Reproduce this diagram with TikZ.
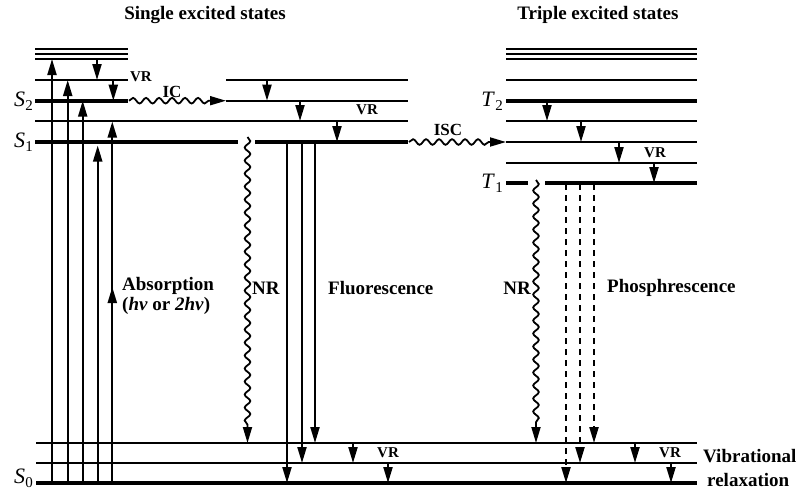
\documentclass[tikz,border=0pt]{standalone}
\usepackage{fontspec}
\setmainfont{Liberation Serif}
\usetikzlibrary{arrows.meta,decorations.pathmorphing}
\newcommand\lvlname[2]{\textit{#1}\kern.3pt\raisebox{-4pt}{\fontsize{15}{15}\selectfont\upshape #2}}
\begin{document}
\begin{tikzpicture}[x=1pt,y=-1pt,
  hairlvl/.style={line width=1.6pt},
  thinlvl/.style={line width=2pt},
  thicklvl/.style={line width=3.6pt},
  arr/.style={line width=2.1pt,-{Triangle[length=16pt,width=9pt]}},
  darr/.style={arr,dash pattern=on 6pt off 5pt},
  wave/.style={line width=1.8pt,decorate,
    decoration={snake,amplitude=2.8pt,segment length=13pt,post length=15pt},
    -{Triangle[length=16pt,width=9pt]}},
  lbl/.style={font=\fontsize{19}{19}\selectfont\bfseries,inner sep=0pt},
  vrlbl/.style={font=\fontsize{15}{15}\selectfont\bfseries,inner sep=0pt},
  levlbl/.style={font=\fontsize{22}{22}\selectfont,inner sep=0pt,anchor=east}
]
\useasboundingbox (0,0) rectangle (800,491);

% ---------- level lines ----------
% singlet top
\foreach \yy in {49,54,59} \draw[hairlvl] (35,\yy) -- (128,\yy);
\draw[thinlvl] (35,80) -- (128,80);
\draw[thicklvl] (35,100.7) -- (128,100.7);
\draw[thinlvl] (35,121) -- (408,121);
\draw[thicklvl] (35,142) -- (238,142);
\draw[thicklvl] (255,142) -- (408,142);
\draw[thinlvl] (226,80) -- (408,80);
\draw[thinlvl] (226,100.7) -- (408,100.7);
% triplet
\foreach \yy in {49,54,59} \draw[hairlvl] (506,\yy) -- (697,\yy);
\draw[thinlvl] (506,80) -- (697,80);
\draw[thicklvl] (506,100.7) -- (697,100.7);
\draw[thinlvl] (506,121) -- (697,121);
\draw[thinlvl] (506,142) -- (697,142);
\draw[thinlvl] (506,163) -- (697,163);
\draw[thicklvl] (506,183) -- (528,183);
\draw[thicklvl] (545,183) -- (697,183);
% ground
\draw[thinlvl] (36,443) -- (697,443);
\draw[thinlvl] (36,463) -- (697,463);
\draw[thicklvl] (36,483) -- (697,483);

% ---------- coordinates ----------
\coordinate (a1s) at (52,483);   \coordinate (a1e) at (52,59);
\coordinate (a2s) at (67.7,483); \coordinate (a2e) at (67.7,80);
\coordinate (a3s) at (82.7,483); \coordinate (a3e) at (82.7,100.7);
\coordinate (a4s) at (97.7,483); \coordinate (a4e) at (97.7,145.5);
\coordinate (a5s) at (112.3,483);\coordinate (a5e) at (112.3,121.5);
\coordinate (a5m1) at (112.3,305);\coordinate (a5m2) at (112.3,287);

\coordinate (v1s) at (97,59);   \coordinate (v1e) at (97,80);
\coordinate (v2s) at (113.3,80);\coordinate (v2e) at (113.3,100.7);
\coordinate (v3s) at (267,80);  \coordinate (v3e) at (267,100.7);
\coordinate (v4s) at (300,100.7);\coordinate (v4e) at (300,121);
\coordinate (v5s) at (337,121); \coordinate (v5e) at (337,142);
\coordinate (v6s) at (547,100.7);\coordinate (v6e) at (547,121);
\coordinate (v7s) at (581,121); \coordinate (v7e) at (581,142);
\coordinate (v8s) at (619,142); \coordinate (v8e) at (619,163);
\coordinate (v9s) at (654,163); \coordinate (v9e) at (654,183);
\coordinate (b1s) at (353,443); \coordinate (b1e) at (353,463);
\coordinate (b2s) at (388,463); \coordinate (b2e) at (388,483);
\coordinate (b3s) at (635,443); \coordinate (b3e) at (635,463);
\coordinate (b4s) at (671,463); \coordinate (b4e) at (671,483);

\coordinate (f1s) at (287,143); \coordinate (f1e) at (287,483);
\coordinate (f2s) at (302,143); \coordinate (f2e) at (302,463);
\coordinate (f3s) at (315,143); \coordinate (f3e) at (315,443);
\coordinate (p1s) at (566,184); \coordinate (p1e) at (566,483);
\coordinate (p2s) at (580,184); \coordinate (p2e) at (580,463);
\coordinate (p3s) at (594,184); \coordinate (p3e) at (594,443);

\coordinate (ics) at (129,100.7); \coordinate (ice) at (226,100.7);
\coordinate (iscs) at (409,142);  \coordinate (isce) at (506,142);
\coordinate (nr1s) at (247.5,137); \coordinate (nr1e) at (247.5,443);
\coordinate (nr2s) at (536,180);   \coordinate (nr2e) at (536,443);

% ---------- arrows ----------
\foreach \n in {a1,a2,a3,a4,a5,v1,v2,v3,v4,v5,v6,v7,v8,v9,b1,b2,b3,b4,f1,f2,f3}
  \draw[arr] (\n s) -- (\n e);
\draw[arr] (a5m1) -- (a5m2);
\foreach \n in {p1,p2,p3}
  \draw[darr] (\n s) -- (\n e);
\draw[wave] (ics) -- (ice);
\draw[wave] (iscs) -- (isce);
\draw[wave] (nr1s) -- (nr1e);
\draw[wave] (nr2s) -- (nr2e);

% ---------- labels ----------
\node[lbl] (t1) at (205,15) {Single excited states};
\node[lbl] (t2) at (598,15) {Triple excited states};
\node[levlbl] (S2) at (33,101) {\lvlname{S}{2}};
\node[levlbl] (S1) at (33,142) {\lvlname{S}{1}};
\node[levlbl] (S0) at (33,478) {\lvlname{S}{0}};
\node[levlbl] (T2) at (503,101) {\lvlname{T}{2}};
\node[levlbl] (T1) at (503,183) {\lvlname{T}{1}};
\node[vrlbl] (vr1) at (141,77) {VR};
\node[vrlbl] (vr2) at (367,110) {VR};
\node[vrlbl] (vr3) at (655,153) {VR};
\node[vrlbl] (vr4) at (388,453) {VR};
\node[vrlbl] (vr5) at (670,453) {VR};
\node[lbl,font=\fontsize{17}{17}\selectfont\bfseries] (ic) at (172,92) {IC};
\node[lbl,font=\fontsize{17}{17}\selectfont\bfseries] (isc) at (448,130) {ISC};
\node[lbl,anchor=west] (nr1) at (252,288) {NR};
\node[lbl,anchor=east] (nr2) at (531,288) {NR};
\node[lbl,anchor=west] (abs) at (122,286) {Absorption};
\node[lbl,anchor=west] (abs2) at (122,306) {(\textit{hv} or \textit{2hv})};
\node[lbl,anchor=west] (fl) at (328,288) {Fluorescence};
\node[lbl,anchor=west] (ph) at (607,288) {Phosphrescence};
\node[lbl,anchor=west] (vib1) at (703,456) {Vibrational};
\node[lbl,anchor=west] (vib2) at (707,480) {relaxation};
\end{tikzpicture}
\end{document}
